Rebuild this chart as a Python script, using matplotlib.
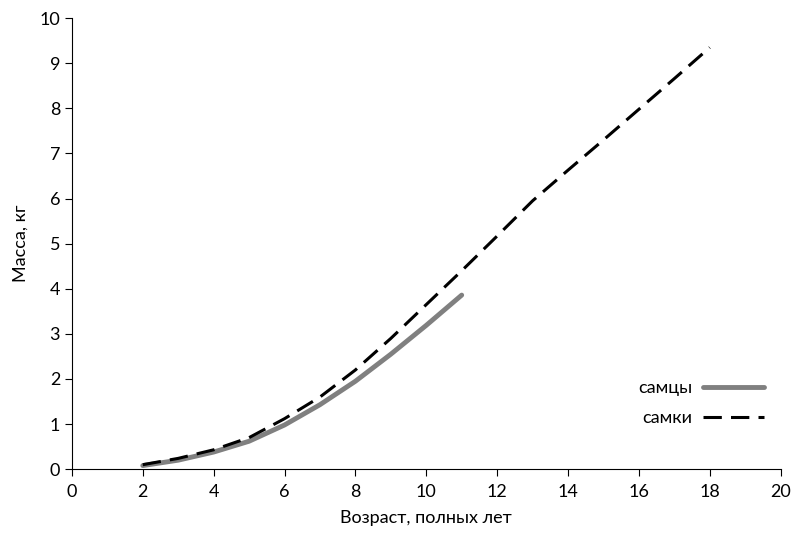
import matplotlib.pyplot as plt

plt.rcParams['font.family'] = ['Lato', 'DejaVu Sans']

age_m = [2, 3, 4, 5, 6, 7, 8, 9, 10, 11]
mass_m = [0.08, 0.2, 0.38, 0.62, 0.98, 1.43, 1.95, 2.55, 3.19, 3.86]

age_f = [2, 3, 4, 5, 6, 7, 8, 9, 10, 11, 12, 13, 14, 15, 16, 17, 18]
mass_f = [0.1, 0.24, 0.43, 0.7, 1.12, 1.6, 2.2, 2.9, 3.65, 4.4, 5.17, 5.95,
          6.63, 7.3, 7.98, 8.66, 9.35]

fig = plt.figure(figsize=(7.99, 5.35), dpi=100)
ax = fig.add_axes([0.090, 0.123, 0.887, 0.843])

ax.plot(age_m, mass_m, color='#808080', lw=3.5, solid_capstyle='round', label='самцы')
ax.plot(age_f, mass_f, color='black', lw=2.2, dashes=(6, 3), label='самки')

ax.set_xlim(0, 20)
ax.set_ylim(0, 10)
ax.set_xticks(range(0, 21, 2))
ax.set_yticks(range(0, 11))
ax.spines['top'].set_visible(False)
ax.spines['right'].set_visible(False)
ax.tick_params(direction='out', length=5, labelsize=13)
ax.tick_params(axis='x', pad=6)
ax.set_xlabel('Возраст, полных лет', fontsize=13, labelpad=7)
ax.set_ylabel('Масса, кг', fontsize=13, labelpad=8)

ax.legend(loc='lower right', bbox_to_anchor=(1.0, 0.06), frameon=False,
          markerfirst=False, fontsize=13, handlelength=3.4, handletextpad=0.6,
          labelspacing=0.75)

fig.savefig('out.png', dpi=100)
